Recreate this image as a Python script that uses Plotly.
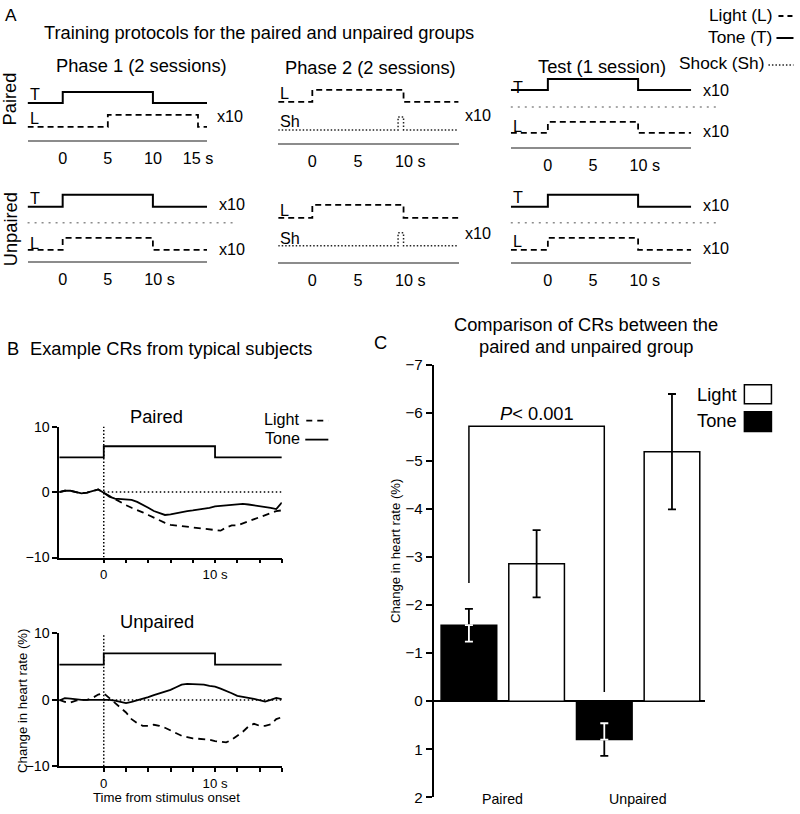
import plotly.graph_objects as go

W, H = 800, 814
FONT = "Liberation Sans, Arial, sans-serif"
# the page is captured slightly scaled (measured: X' = 0.99 X + 0.5, Y' = 0.98 Y + 8);
# positions below are given in screenshot pixels and mapped back to paper space
SX, OX, SY, OY = 0.99, 0.5, 0.98, 8.0


def px(x):
    return (x - OX) / SX / W


def py(y):
    return 1 - (y - OY) / SY / H


def fs(s):
    return round(s * 1.015, 1)


# ======================= DATA =======================
# Panel A: stimulus on/off times (s)
p1_tone_on = [0, 10]
p1_light_on_paired = [5, 15]
p1_light_on_unpaired = [0, 10]
p2_light_on = [0, 10]
p2_shock_on = [9.4, 10]
test_tone_on = [0, 10]
test_light_on = [0, 10]
p1_paired_tickvals = [0, 5, 10, 15]
p1_paired_ticktext = ["0", "5", "10", "15 s"]
std_tickvals = [0, 5, 10]
std_ticktext = ["0", "5", "\u00a0\u00a0\u00a010 s"]

# Panel B: example CR traces (% change in heart rate)
t_b = [-4, -3.5, -3, -2.5, -2, -1.5, -1, -0.5, 0, 0.5, 1, 1.5, 2, 2.5, 3, 3.5, 4,
       4.5, 5, 5.5, 6, 6.5, 7, 7.5, 8, 8.5, 9, 9.5, 10, 10.5, 11, 11.5, 12, 12.5,
       13, 13.5, 14, 14.5, 15, 15.5, 16]
paired_tone = [0.0, 0.2, 0.2, 0.0, -0.2, -0.1, 0.2, 0.4, -0.1, -0.7, -1.0, -1.1, -1.1,
               -1.2, -1.5, -1.9, -2.4, -2.9, -3.2, -3.5, -3.4, -3.2, -3.1, -2.9, -2.8,
               -2.7, -2.5, -2.4, -2.2, -2.1, -2.0, -2.0, -1.9, -1.8, -1.9, -2.0, -2.1,
               -2.2, -2.4, -2.6, -1.6]
paired_light = [0.0, 0.2, 0.2, 0.0, -0.2, -0.1, 0.2, 0.4, -0.1, -0.6, -1.1, -1.6, -2.0,
                -2.4, -2.7, -3.1, -3.5, -3.9, -4.4, -4.7, -5.0, -5.1, -5.2, -5.2, -5.3,
                -5.5, -5.6, -5.7, -5.7, -5.9, -5.4, -5.1, -5.1, -4.8, -4.4, -4.1, -3.8,
                -3.5, -3.2, -2.9, -2.8]
unpaired_tone = [-0.1, 0.25, 0.2, 0.05, 0.0, 0.0, 0.0, 0.05, 0.1, 0.0, -0.1, -0.35, -0.5,
                 -0.3, -0.1, 0.15, 0.4, 0.7, 0.95, 1.2, 1.5, 1.9, 2.3, 2.4, 2.4, 2.35,
                 2.3, 2.1, 2.0, 1.7, 1.4, 1.0, 0.6, 0.4, 0.3, 0.15, 0.0, -0.25, 0.0,
                 0.3, 0.1]
unpaired_light = [0.0, -0.3, -0.4, -0.1, 0.0, 0.0, 0.3, 0.8, 1.0, 0.3, -0.4, -1.1, -1.9,
                  -2.9, -3.5, -3.9, -3.9, -3.75, -3.9, -4.2, -4.6, -5.0, -5.4, -5.6, -5.8,
                  -5.85, -5.9, -6.0, -6.2, -6.3, -6.4, -6.0, -5.4, -4.8, -4.0, -3.6, -3.9,
                  -3.9, -3.7, -2.9, -2.6]
b_tone_on = [0, 10]
b_tone_marker_levels = [5.3, 7.0]     # off / on level of the tone indicator
b_window = [-4, 16]
b_xtickvals = [0, 2, 4, 6, 8, 10, 12, 14, 16]
b_xticktext = ["0", "", "", "", "", "10 s", "", "", ""]
b_ytickvals = [-10, 0, 10]

# Panel C: mean CRs (+/- SEM)
groups = ["Paired", "Unpaired"]
tone_mean = [-1.58, 0.80]
tone_sem = [0.34, 0.34]
light_mean = [-2.86, -5.19]
light_sem = [0.70, 1.20]
bracket_levels = [-2.46, -5.72, -5.72, -0.19]
p_text_level = -5.98

# ======================= FIGURE =======================
fig = go.Figure()
axes = {}


def axnames(i):
    return ("xaxis" if i == 1 else f"xaxis{i}", "yaxis" if i == 1 else f"yaxis{i}",
            "x" if i == 1 else f"x{i}", "y" if i == 1 else f"y{i}")


def step(win, on):
    return [win[0], on[0], on[1], win[1]], [0, 1, 0, 0]


STYLE = {
    "tone": dict(color="black", width=2),
    "light": dict(color="black", width=1.8, dash="6px,4px"),
    "shock": dict(color="#222", width=1.5, dash="1.5px,2px"),
}

# ---------- Panel A timing diagrams ----------
A_diagrams = [
    dict(i=1, x=(28, 207), win=(-3.9, 16.0), axis=139, top=80,
         rows=[("tone", p1_tone_on, 102, 11), ("light", p1_light_on_paired, 126, 12)],
         tv=p1_paired_tickvals, tt=p1_paired_ticktext),
    dict(i=2, x=(278, 458), win=(-3.74, 16.04), axis=142, top=80,
         rows=[("light", p2_light_on, 101, 12), ("shock", p2_shock_on, 129, 13)],
         tv=std_tickvals, tt=std_ticktext),
    dict(i=3, x=(510, 690), win=(-4.11, 15.89), axis=146, top=70,
         rows=[("tone", test_tone_on, 89, 11), ("light", test_light_on, 132, 11)],
         tv=std_tickvals, tt=std_ticktext),
    dict(i=4, x=(28, 207), win=(-3.89, 16.0), axis=260, top=185,
         rows=[("tone", p1_tone_on, 206, 12), ("light", p1_light_on_unpaired, 249, 12)],
         tv=std_tickvals, tt=std_ticktext),
    dict(i=5, x=(278, 458), win=(-3.74, 16.04), axis=261, top=195,
         rows=[("light", p2_light_on, 217, 13), ("shock", p2_shock_on, 245, 13)],
         tv=std_tickvals, tt=std_ticktext),
    dict(i=6, x=(510, 690), win=(-4.11, 15.89), axis=261, top=185,
         rows=[("tone", test_tone_on, 206, 12), ("light", test_light_on, 249, 12)],
         tv=std_tickvals, tt=std_ticktext),
]

for d in A_diagrams:
    xn, yn, xr, yr = axnames(d["i"])
    axes[xn] = dict(domain=[px(d["x"][0]), px(d["x"][1])], anchor=yr, range=list(d["win"]),
                    showline=True, linecolor="#8c8c8c", linewidth=1.5, ticks="",
                    showgrid=False, zeroline=False, tickvals=d["tv"], ticktext=d["tt"],
                    tickfont=dict(size=fs(16), color="black", family=FONT),
                    ticklabelstandoff=3)
    axes[yn] = dict(domain=[py(d["axis"]), py(d["top"])], anchor=xr,
                    range=[d["axis"], d["top"]], visible=False)
    for kind, on, base, amp in d["rows"]:
        xs, s = step(d["win"], on)
        fig.add_trace(go.Scatter(x=xs, y=[base - amp * v for v in s], mode="lines",
                                 line=dict(shape="hv", **STYLE[kind]), xaxis=xr, yaxis=yr,
                                 hoverinfo="skip"))

# ---------- Panel B ----------
B_plots = [
    dict(i=7, ypx=(426, 557), tone=paired_tone, light=paired_light),
    dict(i=8, ypx=(633, 766), tone=unpaired_tone, light=unpaired_light),
]
for d in B_plots:
    xn, yn, xr, yr = axnames(d["i"])
    axes[xn] = dict(domain=[px(59.6), px(281.6)], anchor=yr, range=b_window,
                    showline=True, linecolor="black", linewidth=1.5, ticks="outside",
                    ticklen=4, tickwidth=1.5, tickcolor="black", showgrid=False,
                    zeroline=False, tickvals=b_xtickvals, ticktext=b_xticktext,
                    tickfont=dict(size=fs(13), color="black", family=FONT))
    axes[yn] = dict(domain=[py(d["ypx"][1]), py(d["ypx"][0])], anchor=xr, range=[-10, 10],
                    showline=True, linecolor="black", linewidth=1.5, ticks="outside",
                    ticklen=5, tickwidth=1.5, tickcolor="black", showgrid=False,
                    zeroline=False, tickvals=b_ytickvals,
                    tickfont=dict(size=fs(14), color="black", family=FONT))
    # tone indicator
    xs, s = step(b_window, b_tone_on)
    lv = b_tone_marker_levels
    fig.add_trace(go.Scatter(x=xs, y=[lv[0] + (lv[1] - lv[0]) * v for v in s], mode="lines",
                             line=dict(shape="hv", color="black", width=1.8),
                             xaxis=xr, yaxis=yr, hoverinfo="skip"))
    # onset and zero reference
    fig.add_trace(go.Scatter(x=[0, 0], y=[-10, 10], mode="lines",
                             line=dict(color="black", width=1.5, dash="1.5px,2px"),
                             xaxis=xr, yaxis=yr, hoverinfo="skip"))
    fig.add_trace(go.Scatter(x=[0, b_window[1]], y=[0, 0], mode="lines",
                             line=dict(color="black", width=1.5, dash="1.5px,2.5px"),
                             xaxis=xr, yaxis=yr, hoverinfo="skip"))
    fig.add_trace(go.Scatter(x=t_b, y=d["light"], mode="lines",
                             line=dict(color="black", width=1.8, dash="7px,5px"),
                             xaxis=xr, yaxis=yr, hoverinfo="skip"))
    fig.add_trace(go.Scatter(x=t_b, y=d["tone"], mode="lines",
                             line=dict(color="black", width=1.8),
                             xaxis=xr, yaxis=yr, hoverinfo="skip"))

# ---------- Panel C ----------
xn, yn, xr, yr = axnames(9)
axes[xn] = dict(domain=[px(433), px(704)], anchor=yr, range=[-0.511, 1.496],
                showline=False, ticks="", showgrid=False, zeroline=False,
                showticklabels=False, tickvals=[0, 1])
axes[yn] = dict(domain=[py(797), py(364)], anchor=xr, range=[2, -7], dtick=1, tick0=0,
                showline=True, linecolor="black", linewidth=1.5, ticks="outside",
                ticklen=6, tickwidth=1.5, tickcolor="black", showgrid=False,
                zeroline=True, zerolinecolor="black", zerolinewidth=1.5,
                tickfont=dict(size=fs(15), color="black", family=FONT))
cat = [0, 1]
fig.add_trace(go.Bar(x=cat, y=tone_mean, offsetgroup="tone", xaxis=xr, yaxis=yr,
                     marker=dict(color="black", line=dict(color="black", width=1.5)),
                     error_y=dict(type="data", array=tone_sem, color="black",
                                  thickness=1.8, width=4), hoverinfo="skip"))
fig.add_trace(go.Bar(x=cat, y=light_mean, offsetgroup="light", xaxis=xr, yaxis=yr,
                     marker=dict(color="white", line=dict(color="black", width=1.5)),
                     error_y=dict(type="data", array=light_sem, color="black",
                                  thickness=1.8, width=4), hoverinfo="skip"))
# white part of the tone error bars lying inside the black bars
inner_plus = [s if m < 0 else 0 for m, s in zip(tone_mean, tone_sem)]
inner_minus = [s if m > 0 else 0 for m, s in zip(tone_mean, tone_sem)]
fig.add_trace(go.Bar(x=cat, y=tone_mean, offsetgroup="tone", xaxis=xr, yaxis=yr,
                     marker=dict(color="rgba(0,0,0,0)", line=dict(width=0)),
                     error_y=dict(type="data", symmetric=False, array=inner_plus,
                                  arrayminus=inner_minus, color="white",
                                  thickness=1.8, width=4), hoverinfo="skip"))
tone_offset = -0.25
bracket_x = [cat[0] + tone_offset, cat[0] + tone_offset, cat[1] + tone_offset,
             cat[1] + tone_offset]
fig.add_trace(go.Scatter(x=bracket_x, y=bracket_levels, mode="lines",
                         line=dict(color="black", width=1.5), xaxis=xr, yaxis=yr,
                         hoverinfo="skip"))

# ---------- annotations ----------
ann = []


def txt(x, y, s, size, xa="center", angle=0, ya="middle"):
    ann.append(dict(x=px(x), y=py(y), xref="paper", yref="paper", text=s, showarrow=False,
                    xanchor=xa, yanchor=ya, textangle=angle,
                    font=dict(size=fs(size), color="black", family=FONT)))


txt(3, 14, "A", 17, "left")
txt(259, 32, "Training protocols for the paired and unpaired groups", 18)
txt(142, 65, "Phase 1 (2 sessions)", 18)
txt(370, 67, "Phase 2 (2 sessions)", 18)
txt(601, 66, "Test (1 session)", 18)
txt(10, 98, "Paired", 18, angle=-90)
txt(11, 229, "Unpaired", 18, angle=-90)
for x, y, s in [(28, 93, "T"), (28, 117, "L"), (278, 92, "L"), (278, 120, "Sh"),
                (510, 86, "T"), (510, 125, "L"), (28, 197, "T"), (28, 242, "L"),
                (278, 209, "L"), (278, 237, "Sh"), (510, 196, "T"), (510, 240, "L")]:
    txt(x, y, s, 16, "left")
for x, y in [(230, 115), (477, 114), (715, 89), (715, 130), (232, 203), (232, 248),
             (477, 232), (715, 204), (715, 247)]:
    txt(x, y, "x10", 16)
txt(773, 14, "Light (L)", 17, "right")
txt(773, 36, "Tone (T)", 17, "right")
txt(765, 62, "Shock (Sh)", 17, "right")

txt(5, 348, "B", 18, "left")
txt(28, 348, "Example CRs from typical subjects", 18, "left")
txt(157, 416, "Paired", 18)
txt(157, 621, "Unpaired", 18)
txt(302, 418, "Light", 16, "right")
txt(302, 437, "Tone", 16, "right")
txt(23, 701, "Change in heart rate (%)", 13, angle=-90)
txt(167, 797, "Time from stimulus onset", 13)

txt(372, 342, "C", 18, "left")
txt(585, 324, "Comparison of CRs between the", 18)
txt(585, 346, "paired and unpaired group", 18)
txt(395, 550, "Change in heart rate (%)", 13, angle=-90)
txt(738, 394, "Light", 18, "right")
txt(738, 420, "Tone", 18, "right")
ann.append(dict(x=0.25, y=p_text_level, xref="x9", yref="y9", text="<i>P</i>< 0.001",
                showarrow=False, xanchor="center", yanchor="middle",
                font=dict(size=fs(18), color="black", family=FONT)))
for c, g in zip(cat, groups):
    ann.append(dict(x=c, y=py(799), xref="x9", yref="paper", text=g, showarrow=False,
                    xanchor="center", yanchor="middle",
                    font=dict(size=fs(14), color="black", family=FONT)))

# ---------- decorative shapes ----------
shapes = []


def hline(x0, x1, y, color="black", width=1.5, dash=None):
    ln = dict(color=color, width=width)
    if dash:
        ln["dash"] = dash
    shapes.append(dict(type="line", xref="paper", yref="paper", x0=px(x0), x1=px(x1),
                       y0=py(y), y1=py(y), line=ln))


# separators between tone and light rows
hline(510, 717, 106, "#8c8c8c", 1.5, "2px,5px")
hline(28, 233, 222, "#8c8c8c", 1.5, "2px,5px")
hline(510, 715, 222, "#8c8c8c", 1.5, "2px,5px")
# panel A key
hline(777, 793, 15, "black", 1.8, "5px,4px")
hline(775, 792, 37, "black", 2)
hline(767, 792, 64, "#222", 1.5, "1.5px,2px")
# panel B key
hline(306, 328, 420, "black", 1.8, "6px,5px")
hline(305, 328, 439, "black", 1.8)
# panel C key boxes
shapes.append(dict(type="rect", xref="paper", yref="paper", x0=px(743), x1=px(770),
                   y0=py(403), y1=py(384), fillcolor="white",
                   line=dict(color="black", width=1.5)))
shapes.append(dict(type="rect", xref="paper", yref="paper", x0=px(743), x1=px(770),
                   y0=py(431), y1=py(411), fillcolor="black",
                   line=dict(color="black", width=1.5)))

fig.update_layout(width=W, height=H, margin=dict(l=0, r=0, t=0, b=0),
                  paper_bgcolor="white", plot_bgcolor="white", showlegend=False,
                  barmode="group", bargap=0, bargroupgap=0.178,
                  annotations=ann, shapes=shapes, font=dict(family=FONT, color="black"),
                  **axes)

fig.write_html("out.html", config={"displayModeBar": False},
               post_script="document.body.style.margin='0';"
                           "document.body.style.overflow='hidden';")
